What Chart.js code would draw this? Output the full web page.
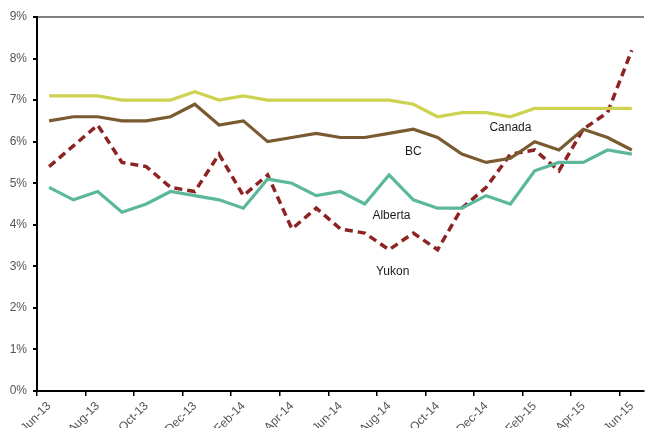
<!DOCTYPE html>
<html>
<head>
<meta charset="utf-8">
<script src="https://cdn.jsdelivr.net/npm/chart.js@4"></script>
<style>
  body { margin: 0; background: #fff; overflow: hidden; }
  #wrap { width: 645px; height: 428px; }
</style>
</head>
<body>
<div id="wrap"><canvas id="rates" width="645" height="428"></canvas></div>
<script>
const months = [
  'Jun-13', 'Jul-13', 'Aug-13', 'Sep-13', 'Oct-13', 'Nov-13', 'Dec-13', 'Jan-14', 'Feb-14',
  'Mar-14', 'Apr-14', 'May-14', 'Jun-14', 'Jul-14', 'Aug-14', 'Sep-14', 'Oct-14', 'Nov-14',
  'Dec-14', 'Jan-15', 'Feb-15', 'Mar-15', 'Apr-15', 'May-15', 'Jun-15'
];

const canada = [7.1, 7.1, 7.1, 7.0, 7.0, 7.0, 7.2, 7.0, 7.1, 7.0, 7.0, 7.0, 7.0, 7.0, 7.0, 6.9, 6.6, 6.7, 6.7, 6.6, 6.8, 6.8, 6.8, 6.8, 6.8];
const bc = [6.5, 6.6, 6.6, 6.5, 6.5, 6.6, 6.9, 6.4, 6.5, 6.0, 6.1, 6.2, 6.1, 6.1, 6.2, 6.3, 6.1, 5.7, 5.5, 5.6, 6.0, 5.8, 6.3, 6.1, 5.8];
const alberta = [4.9, 4.6, 4.8, 4.3, 4.5, 4.8, 4.7, 4.6, 4.4, 5.1, 5.0, 4.7, 4.8, 4.5, 5.2, 4.6, 4.4, 4.4, 4.7, 4.5, 5.3, 5.5, 5.5, 5.8, 5.7];
const yukon = [5.4, 5.9, 6.4, 5.5, 5.4, 4.9, 4.8, 5.7, 4.7, 5.2, 3.9, 4.4, 3.9, 3.8, 3.4, 3.8, 3.4, 4.4, 4.9, 5.7, 5.8, 5.3, 6.3, 6.7, 8.2];

// series name labels placed in data space: [text, category index, value]
const seriesLabels = [
  ['Canada', 19, 6.33],
  ['BC', 15, 5.75],
  ['Alberta', 14.1, 4.23],
  ['Yukon', 14.15, 2.86]
];

const FONT = 'Arial, "Liberation Sans", sans-serif';

const labelPlugin = {
  id: 'seriesLabels',
  afterDatasetsDraw(chart) {
    const { ctx, scales: { x, y } } = chart;
    ctx.save();
    ctx.font = `12px ${FONT}`;
    ctx.fillStyle = '#1a1a1a';
    ctx.textAlign = 'center';
    ctx.textBaseline = 'middle';
    seriesLabels.forEach(([text, i, v]) => {
      ctx.fillText(text, x.getPixelForValue(i), y.getPixelForValue(v));
    });
    ctx.restore();
  }
};

const line = (data, color, extra = {}) => ({
  data,
  borderColor: color,
  borderWidth: 3.2,
  pointRadius: 0,
  tension: 0,
  fill: false,
  ...extra
});

new Chart(document.getElementById('rates'), {
  type: 'line',
  data: {
    labels: months,
    datasets: [
      line(canada, '#cdd250'),
      line(bc, '#7a5a30'),
      line(alberta, '#5cb89a'),
      line(yukon, '#8e2323', { borderWidth: 3.5, borderDash: [8, 5] })
    ]
  },
  options: {
    responsive: false,
    animation: false,
    layout: { padding: { top: 17, right: 0, left: 0, bottom: 0 } },
    plugins: { legend: { display: false }, tooltip: { enabled: false } },
    scales: {
      x: {
        offset: true,
        grid: {
          offset: true,
          drawOnChartArea: false,
          tickLength: 5,
          lineWidth: 1.5,
          color: (c) => (c.index % 2 === 0 ? '#000' : 'rgba(0,0,0,0)')
        },
        border: { color: '#000', width: 2 },
        ticks: {
          autoSkip: false,
          minRotation: 45,
          maxRotation: 45,
          padding: 3,
          color: '#555',
          font: { family: FONT, size: 12 },
          callback: (v, i) => (i % 2 === 0 ? months[i] : '')
        },
        afterFit: (s) => { s.height = 37; }
      },
      y: {
        min: 0,
        max: 9,
        ticks: {
          stepSize: 1,
          padding: 6,
          color: '#555',
          font: { family: FONT, size: 12 },
          callback: (v) => `${v}%`
        },
        grid: {
          tickLength: 4,
          tickColor: '#000',
          lineWidth: 2,
          color: (c) => (c.tick && c.tick.value === 9 ? '#808080' : 'rgba(0,0,0,0)')
        },
        border: { color: '#000', width: 2 },
        afterFit: (s) => { s.width = 37; }
      }
    }
  },
  plugins: [labelPlugin]
});
</script>
</body>
</html>
